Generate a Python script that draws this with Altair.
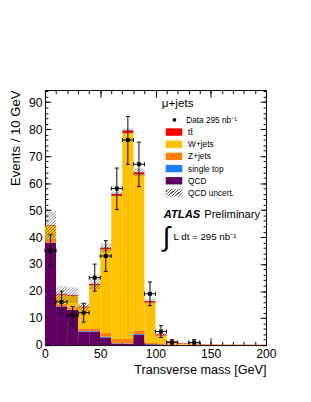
import math
import altair as alt
import numpy as np
import pandas as pd

# ---------------- data ----------------
bin_lo = list(range(0, 200, 10))
qcd     = [37.9, 14.3, 13.0, 5.0, 5.0, 2.8, 0.5, 0.4, 3.8, 0.3, 0.2, 0.1, 0.05, 0.05, 0.05, 0.05, 0.05, 0.05, 0.05, 0.05]
stop    = [0.1, 0.1, 0.1, 0.2, 0.2, 0.3, 0.2, 0.2, 0.3, 0.1, 0.05, 0.02, 0.02, 0.01, 0.01, 0.01, 0.01, 0.01, 0.01, 0.01]
zjets   = [1.5, 1.0, 0.9, 1.0, 1.0, 1.4, 1.6, 1.7, 1.3, 0.5, 0.4, 0.2, 0.1, 0.1, 0.05, 0.05, 0.03, 0.03, 0.03, 0.03]
wjets   = [4.8, 3.3, 4.2, 7.8, 16.0, 31.0, 53.0, 76.3, 57.8, 14.9, 2.9, 0.9, 0.35, 0.2, 0.12, 0.1, 0.08, 0.06, 0.05, 0.05]
ttbar   = [0.2, 0.3, 0.3, 0.3, 0.5, 0.6, 0.7, 0.9, 0.8, 0.5, 0.4, 0.3, 0.2, 0.15, 0.1, 0.08, 0.06, 0.05, 0.04, 0.03]
qcd_unc = [5.0, 2.8, 2.9, 1.4, 2.0, 1.6, 0.9, 0.8, 1.4, 0.8, 0.5, 0.2, 0.1, 0.1, 0.05, 0.05, 0.05, 0.05, 0.05, 0.05]

data_x  = [5, 15, 25, 35, 45, 55, 65, 75, 85, 95, 105, 115, 135]
data_n  = [35, 16, 11, 12, 25, 33, 58, 76, 67, 19, 5, 1, 1]
data_lo = [29.1, 12.0, 7.7, 8.5, 20.0, 27.3, 50.2, 67.0, 58.7, 14.6, 2.8, 0.0, 0.0]
data_hi = [40.9, 20.0, 14.3, 15.5, 30.0, 38.7, 65.6, 84.7, 75.2, 23.4, 7.2, 2.0, 2.0]

procs = ["QCD", "single top", "Z+jets", "W+jets", "tt\u0304"]
proc_colors = ["#600060", "#1b7fff", "#ff8000", "#ffc000", "#ff0000"]

legend_labels = ["tt\u0304", "W+jets", "Z+jets", "single top", "QCD", "QCD uncert."]
legend_colors = ["#ff0000", "#ffc000", "#ff8000", "#1b7fff", "#600060", "#ffffff"]

# ---------------- geometry / style ----------------
W, H = 227, 262
XMAX, YMAX = 200, 94.5
FONT = "Liberation Sans"

xs = alt.Scale(domain=[0, XMAX], nice=False, zero=False)
ys = alt.Scale(domain=[0, YMAX], nice=False, zero=False)

# ---------------- tables ----------------
series = [qcd, stop, zjets, wjets, ttbar]
rows = []
for i, lo in enumerate(bin_lo):
    for k, p in enumerate(procs):
        rows.append(dict(x0=lo, x1=lo + 10, proc=p, val=series[k][i], ord=k))
stack_df = pd.DataFrame(rows)

totals = np.sum(np.array(series), axis=0)
band_lo = np.maximum(totals - np.array(qcd_unc), 0)
band_hi = np.minimum(totals + np.array(qcd_unc), YMAX)

# hatch segments (45 degree lines in screen space) inside each uncertainty band
kx, ky, sp = W / XMAX, H / YMAX, 3.0
segs = []
for i, a in enumerate(bin_lo):
    b = a + 10
    lo_, hi_ = band_lo[i], band_hi[i]
    umin, umax = a * kx - hi_ * ky, b * kx - lo_ * ky
    for n in range(math.ceil(umin / sp), math.floor(umax / sp) + 1):
        u = n * sp
        xa = max(a, (lo_ * ky + u) / kx)
        xb = min(b, (hi_ * ky + u) / kx)
        if xb - xa > 1e-6:
            segs.append(dict(xa=xa, xb=xb, ya=(xa * kx - u) / ky, yb=(xb * kx - u) / ky))
hatch_df = pd.DataFrame(segs)

pts_df = pd.DataFrame(dict(xc=data_x, n=data_n, lo=data_lo, hi=data_hi))
pts_df["xa"] = pts_df["xc"] - 5
pts_df["xb"] = pts_df["xc"] + 5

# ---------------- axes ----------------
def tick_axis(orient, values, size):
    return alt.Axis(orient=orient, values=values, tickSize=size, offset=-size,
                    labels=False, domain=False, grid=False, title=None,
                    tickColor="black", tickWidth=1)

x_major = [0, 50, 100, 150, 200]
x_minor = list(range(0, 201, 10))
y_major = list(range(0, 95, 10))
y_minor = list(range(0, 95, 2))

ax_x_lab = alt.Axis(orient="bottom", values=x_major, tickSize=0, domain=False, grid=False,
                    labelFontSize=12.5, labelPadding=3, labelFlush=False, labelOverlap=False,
                    labelColor="black", title="Transverse mass [GeV]", titleFontSize=13,
                    titleFontWeight="normal", titleAnchor="end", titlePadding=4, titleColor="black")
ax_y_lab = alt.Axis(orient="left", values=y_major, tickSize=0, domain=False, grid=False,
                    labelFontSize=12.5, labelPadding=3, labelOverlap=False, labelColor="black",
                    title="Events / 10 GeV", titleFontSize=13.5, titleFontWeight="normal",
                    titleAnchor="end", titlePadding=6, titleColor="black")

# ---------------- layers ----------------
bars = alt.Chart(stack_df).transform_stack(
    stack="val", as_=["y0", "y1"], groupby=["x0"], sort=[alt.SortField("ord", order="ascending")]
).mark_rect(strokeWidth=0).encode(
    x=alt.X("x0:Q", scale=xs, axis=ax_x_lab),
    x2="x1:Q",
    y=alt.Y("y0:Q", scale=ys, axis=ax_y_lab),
    y2="y1:Q",
    color=alt.Color("proc:N", scale=alt.Scale(domain=procs, range=proc_colors), legend=None),
)

hatch = alt.Chart(hatch_df).mark_rule(stroke="#3a3a3a", strokeWidth=0.6).encode(
    x=alt.X("xa:Q", scale=xs, axis=tick_axis("bottom", x_major, 7.5)),
    x2="xb:Q",
    y=alt.Y("ya:Q", scale=ys, axis=tick_axis("left", y_major, 6)),
    y2="yb:Q",
)

err_v = alt.Chart(pts_df).mark_rule(color="black", strokeWidth=1).encode(
    x=alt.X("xc:Q", scale=xs, axis=tick_axis("bottom", x_minor, 3.8)),
    y=alt.Y("lo:Q", scale=ys, axis=tick_axis("left", y_minor, 3)),
    y2="hi:Q",
)

err_h = alt.Chart(pts_df).mark_rule(color="black", strokeWidth=1).encode(
    x=alt.X("xa:Q", scale=xs, axis=tick_axis("top", x_major, 7.5)),
    x2="xb:Q",
    y=alt.Y("n:Q", scale=ys, axis=tick_axis("right", y_major, 6)),
)

caps_h = alt.Chart(pts_df).transform_fold(["lo", "hi"], as_=["k", "v"]).mark_tick(
    orient="horizontal", size=4, thickness=1, color="black", opacity=1
).encode(
    x=alt.X("xc:Q", scale=xs, axis=tick_axis("top", x_minor, 3.8)),
    y=alt.Y("v:Q", scale=ys, axis=tick_axis("right", y_minor, 3)),
)

caps_v = alt.Chart(pts_df).transform_fold(["xa", "xb"], as_=["k", "v"]).mark_tick(
    orient="vertical", size=4, thickness=1, color="black", opacity=1
).encode(
    x=alt.X("v:Q", scale=xs, axis=None),
    y=alt.Y("n:Q", scale=ys, axis=None),
)

points = alt.Chart(pts_df).mark_square(size=16, color="black", opacity=1).encode(
    x=alt.X("xc:Q", scale=xs, axis=None),
    y=alt.Y("n:Q", scale=ys, axis=None),
)

# ---------------- legend / annotations (positions in plot-area pixels) ----------------
leg_df = pd.DataFrame(dict(label=legend_labels, col=legend_colors, i=list(range(len(legend_labels)))))
leg_base = alt.Chart(leg_df).transform_calculate(
    py="43.2 + 12.5 * datum.i", py0="39.4 + 12.5 * datum.i", py1="47 + 12.5 * datum.i"
)
leg_boxes = leg_base.transform_filter("datum.i < 5").mark_rect().encode(
    x=alt.value(124), x2=alt.value(141),
    y=alt.Y("py0:Q", scale=None, axis=None), y2="py1:Q",
    color=alt.Color("col:N", scale=None, legend=None),
)
stops = []
for k in range(7):
    stops.append(alt.GradientStop(color="rgba(255,255,255,0)", offset=k / 7))
    stops.append(alt.GradientStop(color="rgba(255,255,255,0)", offset=(k + 0.62) / 7))
    stops.append(alt.GradientStop(color="#555555", offset=(k + 0.62) / 7))
    stops.append(alt.GradientStop(color="#555555", offset=(k + 1) / 7))
hatch_grad = alt.LinearGradient(gradient="linear", stops=stops, x1=0, y1=0, x2=1.2, y2=0.6)
leg_hatch = alt.Chart(leg_df).transform_filter("datum.i == 5").mark_rect(fill=hatch_grad).encode(
    x=alt.value(124), x2=alt.value(141),
    y=alt.value(39.4 + 12.5 * 5), y2=alt.value(47 + 12.5 * 5),
)
leg_text = leg_base.mark_text(align="left", baseline="middle", fontSize=8.5, font=FONT, color="black").encode(
    x=alt.value(147), y=alt.Y("py:Q", scale=None, axis=None), text="label:N",
)

note_df = pd.DataFrame(dict(t=["x"]))
def note(text, x, y, size, **kw):
    return alt.Chart(note_df).mark_text(align="left", baseline="middle", fontSize=size, font=FONT,
                                        color="black", text=text, **kw).encode(
        x=alt.value(x), y=alt.value(y))

data_bullet = alt.Chart(note_df).mark_circle(size=14, color="black", opacity=1).encode(
    x=alt.value(133), y=alt.value(30.7))
notes = [
    note("\u03bc+jets", 120, 13, 12),
    note("Data 295 nb\u207b\u00b9", 145, 30.7, 8.5),
    note("ATLAS", 122, 128, 11.5, fontWeight="bold", fontStyle="italic"),
    note("Preliminary", 163.5, 128, 11.5),
    note("\u222b", 121, 152, 28),
    note("L dt = 295 nb\u207b\u00b9", 132, 151, 10),
]

chart = alt.layer(
    bars, hatch, err_v, err_h, caps_h, caps_v, points,
    leg_boxes, leg_hatch, leg_text, data_bullet, *notes
).resolve_scale(x="independent", y="independent").properties(
    width=W, height=H, autosize="none",
    padding={"left": 38, "top": 79, "right": 38, "bottom": 45},
).configure(font=FONT, background="white").configure_view(stroke="black", strokeWidth=1)

chart.save("out.html", embed_options={"renderer": "svg", "actions": False})
